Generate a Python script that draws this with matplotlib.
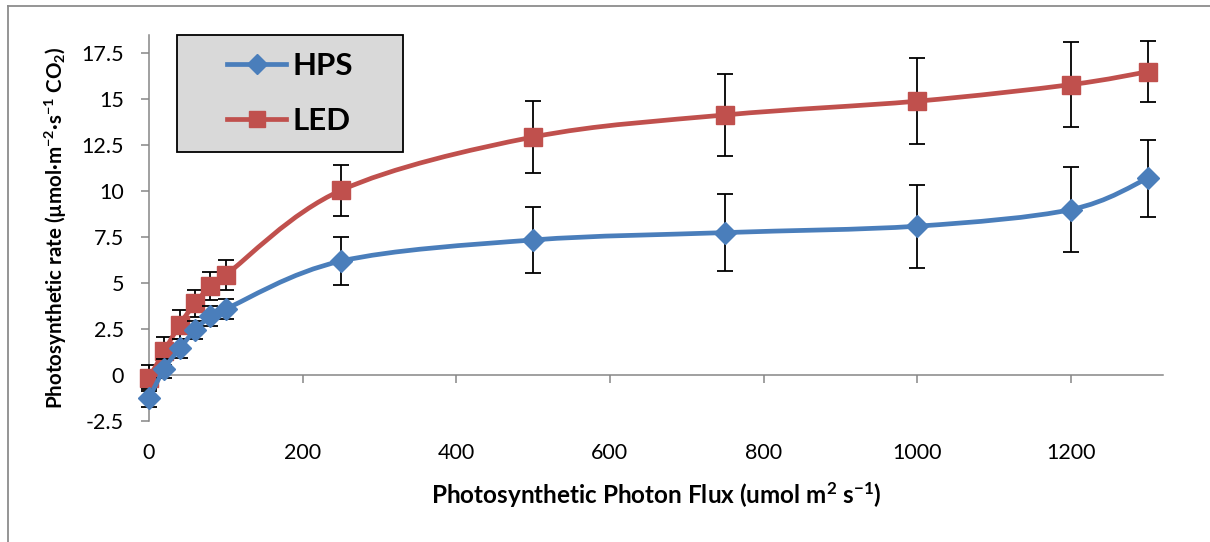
import numpy as np
import matplotlib
matplotlib.use("Agg")
import matplotlib.pyplot as plt
from matplotlib.path import Path
from matplotlib.patches import PathPatch, Rectangle
from matplotlib.lines import Line2D

# ---- data ----
ppf = [0, 20, 40, 60, 80, 100, 250, 500, 750, 1000, 1200, 1300]
hps = [-1.25, 0.35, 1.45, 2.45, 3.2, 3.6, 6.2, 7.35, 7.75, 8.1, 9.0, 10.7]
hps_err = [0.5, 0.5, 0.5, 0.5, 0.55, 0.55, 1.3, 1.8, 2.1, 2.25, 2.3, 2.1]
led = [-0.15, 1.3, 2.75, 3.9, 4.85, 5.45, 10.05, 12.95, 14.15, 14.9, 15.8, 16.5]
led_err = [0.7, 0.75, 0.8, 0.75, 0.75, 0.8, 1.4, 1.95, 2.25, 2.35, 2.3, 1.65]
series_names = ["HPS", "LED"]
xticks = [0, 200, 400, 600, 800, 1000, 1200]
yticks = [-2.5, 0, 2.5, 5, 7.5, 10, 12.5, 15, 17.5]
ytick_labels = ["-2.5", "0", "2.5", "5", "7.5", "10", "12.5", "15", "17.5"]

FONT = "Lato"
plt.rcParams["font.family"] = [FONT, "DejaVu Sans"]
plt.rcParams["mathtext.fontset"] = "custom"
plt.rcParams["mathtext.rm"] = FONT + ":bold"
plt.rcParams["mathtext.it"] = FONT + ":bold"
plt.rcParams["mathtext.bf"] = FONT + ":bold"

W, H = 1210, 542
fig = plt.figure(figsize=(W / 100, H / 100), dpi=100)
ax_l, ax_r, ax_t, ax_b = 149, 1163, 35, 421
ax = fig.add_axes([ax_l / W, 1 - ax_b / H, (ax_r - ax_l) / W, (ax_b - ax_t) / H])

# figure border (gray, left & top)
fig.add_artist(Line2D([7.5 / W, 7.5 / W], [0, 1 - 5.5 / H], transform=fig.transFigure,
                      color="#8c8c8c", lw=1.3))
fig.add_artist(Line2D([7.5 / W, 1], [1 - 5.5 / H, 1 - 5.5 / H], transform=fig.transFigure,
                      color="#8c8c8c", lw=1.3))

ax.set_xlim(0, 1320)
ax.set_ylim(-2.5, 18.5)


def smooth_path(x, y):
    pts = np.column_stack([x, y]).astype(float)
    n = len(pts)
    verts = [pts[0]]
    codes = [Path.MOVETO]
    for i in range(n - 1):
        p0 = pts[i - 1] if i > 0 else pts[i]
        p1 = pts[i]
        p2 = pts[i + 1]
        p3 = pts[i + 2] if i + 2 < n else pts[i + 1]
        c1 = p1 + (p2 - p0) / 6.0
        c2 = p2 - (p3 - p1) / 6.0
        verts += [c1, c2, p2]
        codes += [Path.CURVE4] * 3
    return Path(verts, codes)


colors = {"HPS": "#4a7ebb", "LED": "#c0504d"}
markers = {"HPS": "D", "LED": "s"}
msizes = {"HPS": 11, "LED": 12.5}
data = {"HPS": (hps, hps_err), "LED": (led, led_err)}

z = 2
for name in ["LED", "HPS"]:
    yv, ev = data[name]
    eb = ax.errorbar(ppf, yv, yerr=ev, fmt="none", ecolor="black", elinewidth=1.3,
                     capsize=5.5, capthick=1.3, zorder=z)
    for art in eb.get_children():
        art.set_clip_on(False)
    ax.add_patch(PathPatch(smooth_path(ppf, yv), fill=False, edgecolor=colors[name],
                           lw=3.4, zorder=z + 0.5, capstyle="round", joinstyle="round",
                           clip_on=False))
    ax.plot(ppf, yv, linestyle="none", marker=markers[name], ms=msizes[name],
            color=colors[name], mec=colors[name], zorder=z + 1, clip_on=False)
    z += 2

# spines
for s in ["top", "right"]:
    ax.spines[s].set_visible(False)
ax.spines["left"].set_color("#868686")
ax.spines["left"].set_linewidth(1.1)
ax.spines["left"].set_zorder(1)
ax.spines["bottom"].set_position(("data", 0))
ax.spines["bottom"].set_color("#868686")
ax.spines["bottom"].set_linewidth(1.1)
ax.spines["bottom"].set_zorder(1)

ax.set_yticks(yticks)
ax.set_yticklabels(ytick_labels)
ax.tick_params(axis="y", direction="out", length=6, width=1.1, color="#868686",
               labelsize=15.5, pad=12)
ax.set_xticks(xticks)
ax.tick_params(axis="x", direction="out", length=5.5, width=1.1, color="#868686",
               labelbottom=False)

sec = ax.secondary_xaxis("bottom")
sec.set_xticks(xticks)
sec.set_xticklabels([str(v) for v in xticks])
sec.tick_params(axis="x", length=0, labelsize=15.5, pad=16)
sec.spines["bottom"].set_visible(False)

ax.set_ylabel(r"Photosynthetic rate (µmol·m$^{-2}$·s$^{-1}$ CO$_{2}$)", fontsize=14.8,
              fontweight="bold")
sec.set_xlabel(r"Photosynthetic Photon Flux (umol m$^{2}$ s$^{-1}$)", fontsize=17.5,
               fontweight="bold", labelpad=12)
ax.yaxis.set_label_coords(-(149 - 69) / (ax_r - ax_l), 0.5)

# legend box
x0 = (177 - ax_l) / (ax_r - ax_l)
x1 = (403 - ax_l) / (ax_r - ax_l)
y1 = (ax_b - 35) / (ax_b - ax_t)
y0 = (ax_b - 152) / (ax_b - ax_t)
ax.add_patch(Rectangle((x0, y0), x1 - x0, y1 - y0, transform=ax.transAxes,
                       facecolor="#d9d9d9", edgecolor="black", lw=1.3, zorder=8,
                       clip_on=False))
handles = [Line2D([], [], color=colors[n], lw=3.4, marker=markers[n], ms=msizes[n] * 0.95,
                  mec=colors[n]) for n in series_names]
leg = ax.legend(handles, series_names, loc="center",
                bbox_to_anchor=((x0 + x1) / 2, (y0 + y1) / 2), frameon=False,
                prop={"family": FONT, "weight": "bold", "size": 22.5},
                handlelength=1.9, handletextpad=0.2, labelspacing=0.85)
leg.set_zorder(9)

fig.savefig("out.png", dpi=100)
